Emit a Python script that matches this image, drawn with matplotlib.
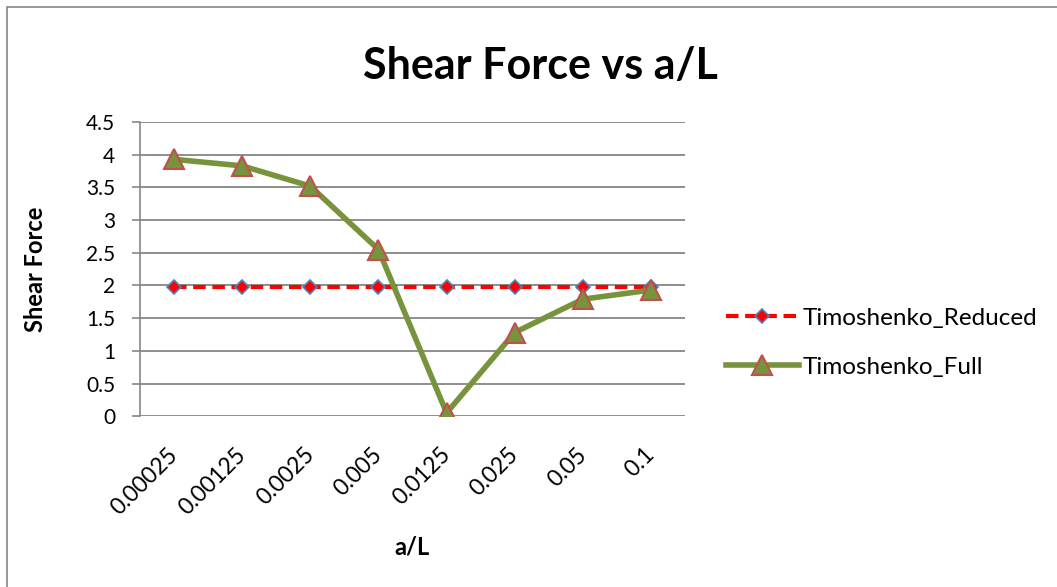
import matplotlib.pyplot as plt
import matplotlib.transforms as mtransforms
from matplotlib.patches import Rectangle

plt.rcParams['font.family'] = ['Lato', 'DejaVu Sans']

a_over_L = ['0.00025', '0.00125', '0.0025', '0.005', '0.0125', '0.025', '0.05', '0.1']
timoshenko_reduced = [1.97, 1.97, 1.97, 1.97, 1.97, 1.97, 1.97, 1.97]
timoshenko_full = [3.93, 3.83, 3.52, 2.55, 0.05, 1.28, 1.79, 1.93]
y_ticks = [0, 0.5, 1, 1.5, 2, 2.5, 3, 3.5, 4, 4.5]

fig = plt.figure(figsize=(10.57, 5.87), dpi=100)
ax = fig.add_axes([0.1325, 0.291, 0.5155, 0.501])

x = list(range(len(a_over_L)))
ax.plot(x, timoshenko_reduced, color='#FF0000', lw=3, ls=(0, (3, 1.6)),
        marker='D', ms=7, mfc='#FF0000', mec='#4F81BD', mew=1.2,
        label='Timoshenko_Reduced', zorder=3)
ax.plot(x, timoshenko_full, color='#77933C', lw=4,
        marker='^', ms=14, mfc='#77933C', mec='#C0504D', mew=1.5,
        label='Timoshenko_Full', zorder=4)

ax.set_xlim(-0.5, len(a_over_L) - 0.5)
ax.set_ylim(0, 4.5)
ax.set_yticks(y_ticks)
ax.set_yticklabels([f'{v:g}' for v in y_ticks], fontsize=15)
ax.set_xticks(x)
ax.set_xticklabels(a_over_L, rotation=45, ha='right', rotation_mode='anchor', fontsize=16.5)
ax.tick_params(axis='x', length=0, pad=20)
ax.tick_params(axis='y', length=6, color='#868686', width=1.2, pad=12)

# nudge rotated labels a little to the left, like Excel
shift = mtransforms.ScaledTranslation(-7 / 100, 0, fig.dpi_scale_trans)
for lbl in ax.get_xticklabels():
    lbl.set_transform(lbl.get_transform() + shift)

ax.grid(axis='y', color='#868686', lw=1.3)
ax.set_axisbelow(True)
for side in ['top', 'right', 'bottom']:
    ax.spines[side].set_visible(False)
ax.spines['left'].set_color('#868686')
ax.spines['left'].set_linewidth(1.2)

ax.set_ylabel('Shear Force', fontsize=17, fontweight='bold', labelpad=28)
ax.set_xlabel('a/L', fontsize=17, fontweight='bold', labelpad=12)
fig.text(0.511, 0.887, 'Shear Force vs a/L', ha='center', va='center',
         fontsize=31, fontweight='bold')

ax.legend(loc='center left', bbox_to_anchor=(1.035, 0.25), frameon=False,
          fontsize=17.5, handlelength=3.0, labelspacing=1.15, handletextpad=0.15)

fig.patches.append(Rectangle((7 / 1057, -0.01), 1.02, 1 - 7 / 587 + 0.01,
                             transform=fig.transFigure, fill=False,
                             edgecolor='#868686', lw=1.2))

fig.savefig('out.png', dpi=100)
